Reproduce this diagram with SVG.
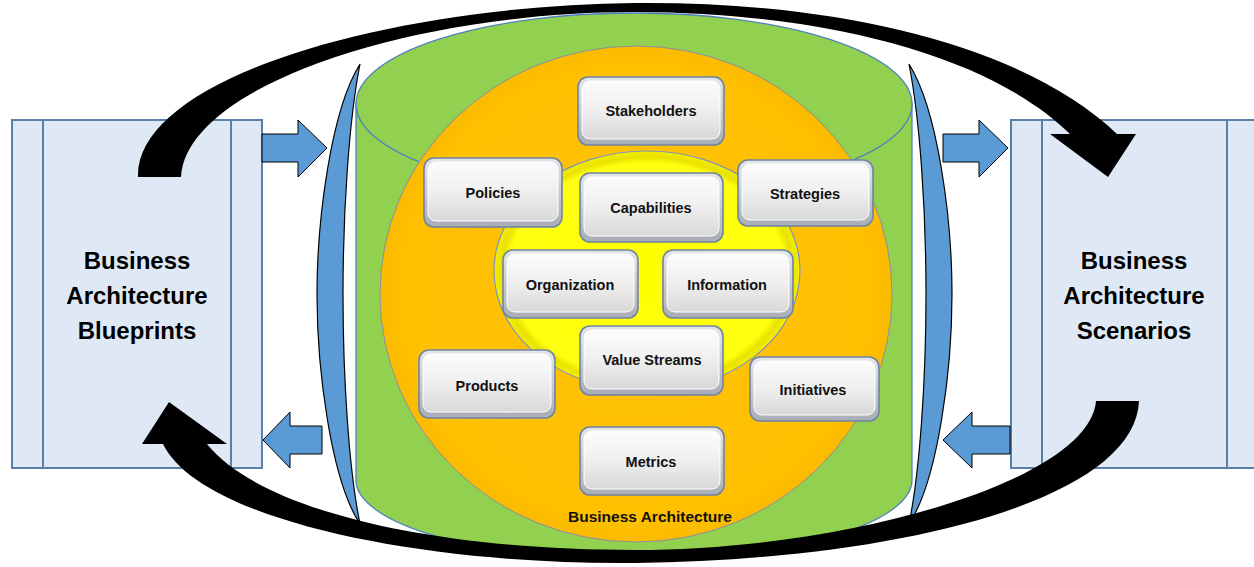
<svg xmlns="http://www.w3.org/2000/svg" width="1254" height="567" viewBox="0 0 1254 567">
<defs>
<linearGradient id="btnG" x1="0" y1="0" x2="0" y2="1">
<stop offset="0" stop-color="#FCFCFC"/>
<stop offset="0.5" stop-color="#EFEFEF"/>
<stop offset="1" stop-color="#D8D8D8"/>
</linearGradient>
<linearGradient id="btnO" x1="0" y1="0" x2="0" y2="1">
<stop offset="0" stop-color="#E4E6EA"/>
<stop offset="1" stop-color="#A9ADB5"/>
</linearGradient>
<radialGradient id="yelG" cx="0.5" cy="0.5" r="0.5">
<stop offset="0" stop-color="#FFFF00"/>
<stop offset="0.9" stop-color="#FFFF10"/>
<stop offset="0.95" stop-color="#E9E200"/>
<stop offset="1" stop-color="#F4EE00"/>
</radialGradient>
<radialGradient id="orG" cx="0.5" cy="0.5" r="0.5">
<stop offset="0" stop-color="#FFC20A"/>
<stop offset="0.92" stop-color="#FFC000"/>
<stop offset="1" stop-color="#FABB00"/>
</radialGradient>
</defs>
<style>
.panel{fill:#DEE9F5;stroke:#5A7FA8;stroke-width:2}
.pline{stroke:#5A7FA8;stroke-width:2;fill:none}
.ptxt{font-family:"Liberation Sans",Arial,sans-serif;font-weight:bold;font-size:24px;fill:#000;text-anchor:middle}
.barrow{fill:#5B9BD5;stroke:#000;stroke-width:1}
.cres{fill:#5B9BD5;stroke:#000;stroke-width:1.2}
.cyl{fill:#92D050;stroke:#4F81BD;stroke-width:1.3}
.bo{fill:url(#btnO);stroke:#7083A3;stroke-width:1.6}
.bi{fill:url(#btnG);stroke:#FFFFFF;stroke-width:1}
.bt{font-family:"Liberation Sans",Arial,sans-serif;font-weight:bold;font-size:14.5px;fill:#111;text-anchor:middle}
.lbl{font-family:"Liberation Sans",Arial,sans-serif;font-weight:bold;font-size:15.5px;fill:#111;text-anchor:middle}
.black{fill:#000}
</style>

<g id="panel-left">
<rect class="panel" x="12" y="120" width="250" height="348"/>
<line class="pline" x1="43" y1="120" x2="43" y2="468"/>
<line class="pline" x1="231" y1="120" x2="231" y2="468"/>
<text class="ptxt" x="137" y="269">Business</text>
<text class="ptxt" x="137" y="304">Architecture</text>
<text class="ptxt" x="137" y="339">Blueprints</text>
</g>

<g id="panel-right">
<rect class="panel" x="1011" y="120" width="252" height="348"/>
<line class="pline" x1="1042" y1="120" x2="1042" y2="468"/>
<line class="pline" x1="1227" y1="120" x2="1227" y2="468"/>
<text class="ptxt" x="1134" y="269">Business</text>
<text class="ptxt" x="1134" y="304">Architecture</text>
<text class="ptxt" x="1134" y="339">Scenarios</text>
</g>

<g id="cylinder">
<path class="cyl" d="M356,104 V480 A278,80 0 0 0 912,480 V104 Z"/>
<ellipse class="cyl" cx="634" cy="104" rx="278" ry="91"/>
</g>

<g id="orange-ring">
<ellipse cx="636" cy="294" rx="256" ry="248" fill="url(#orG)" stroke="#8A8FA0" stroke-width="1"/>
</g>

<g id="yellow-core">
<ellipse cx="647" cy="271" rx="153" ry="120" fill="url(#yelG)" stroke="#7F93B8" stroke-width="1.2"/>
</g>

<g id="crescent-left">
<path class="cres" d="M360,64 C331,110 317,220 317,294 C317,370 331,480 360,524 C349,470 343,380 343,294 C343,210 349,120 360,64 Z"/>
</g>
<g id="crescent-right">
<path class="cres" d="M909,64 C938,110 952,220 952,294 C952,370 938,480 909,524 C920,470 926,380 926,294 C926,210 920,120 909,64 Z"/>
</g>

<g id="connectors">
<path class="barrow" d="M262,134 H298 V120 L327,148 L298,177 V162 H262 Z"/>
<path class="barrow" d="M943,134 H979 V120 L1008,148 L979,177 V162 H943 Z"/>
<path class="barrow" d="M322,426 H290 V412 L263,440 L290,468 V454 H322 Z"/>
<path class="barrow" d="M1010,426 H972 V412 L943,440 L972,468 V454 H1010 Z"/>
<path class="black" d="M138,177 C135,80 380,6 635,3 C850,1 1030,50 1117,134 L1136,134 L1108,177 L1050,134 L1070,134 C1000,65 850,13 635,12 C410,12 186,86 181,177 Z"/>
<path class="black" d="M1139,401 C1135,500 900,560 635,563 C420,565 200,520 163,444 L142,444 L169,402 L227,444 L207,444 C260,510 430,550 635,550 C850,550 1090,480 1096,401 Z"/>
</g>

<g id="node-stakeholders">
<rect class="bo" x="578" y="77" width="146" height="68" rx="10"/>
<rect class="bi" x="582" y="81" width="138" height="58" rx="8"/>
<text class="bt" x="651" y="116">Stakeholders</text>
</g>
<g id="node-policies">
<rect class="bo" x="424" y="158" width="138" height="69" rx="10"/>
<rect class="bi" x="428" y="162" width="130" height="59" rx="8"/>
<text class="bt" x="493" y="198">Policies</text>
</g>
<g id="node-capabilities">
<rect class="bo" x="580" y="173" width="143" height="69" rx="10"/>
<rect class="bi" x="584" y="177" width="135" height="59" rx="8"/>
<text class="bt" x="651" y="213">Capabilities</text>
</g>
<g id="node-strategies">
<rect class="bo" x="738" y="160" width="135" height="66" rx="10"/>
<rect class="bi" x="742" y="164" width="127" height="56" rx="8"/>
<text class="bt" x="805" y="199">Strategies</text>
</g>
<g id="node-organization">
<rect class="bo" x="503" y="250" width="135" height="68" rx="10"/>
<rect class="bi" x="507" y="254" width="127" height="58" rx="8"/>
<text class="bt" x="570" y="290">Organization</text>
</g>
<g id="node-information">
<rect class="bo" x="663" y="250" width="130" height="68" rx="10"/>
<rect class="bi" x="667" y="254" width="122" height="58" rx="8"/>
<text class="bt" x="727" y="290">Information</text>
</g>
<g id="node-value-streams">
<rect class="bo" x="580" y="326" width="143" height="69" rx="10"/>
<rect class="bi" x="584" y="330" width="135" height="59" rx="8"/>
<text class="bt" x="652" y="365">Value Streams</text>
</g>
<g id="node-products">
<rect class="bo" x="419" y="350" width="136" height="68" rx="10"/>
<rect class="bi" x="423" y="354" width="128" height="58" rx="8"/>
<text class="bt" x="487" y="391">Products</text>
</g>
<g id="node-initiatives">
<rect class="bo" x="750" y="357" width="129" height="64" rx="10"/>
<rect class="bi" x="754" y="361" width="121" height="54" rx="8"/>
<text class="bt" x="813" y="395">Initiatives</text>
</g>
<g id="node-metrics">
<rect class="bo" x="580" y="427" width="144" height="68" rx="10"/>
<rect class="bi" x="584" y="431" width="136" height="58" rx="8"/>
<text class="bt" x="651" y="467">Metrics</text>
</g>

<g id="label-business-architecture">
<text class="lbl" x="650" y="522">Business Architecture</text>
</g>
</svg>
